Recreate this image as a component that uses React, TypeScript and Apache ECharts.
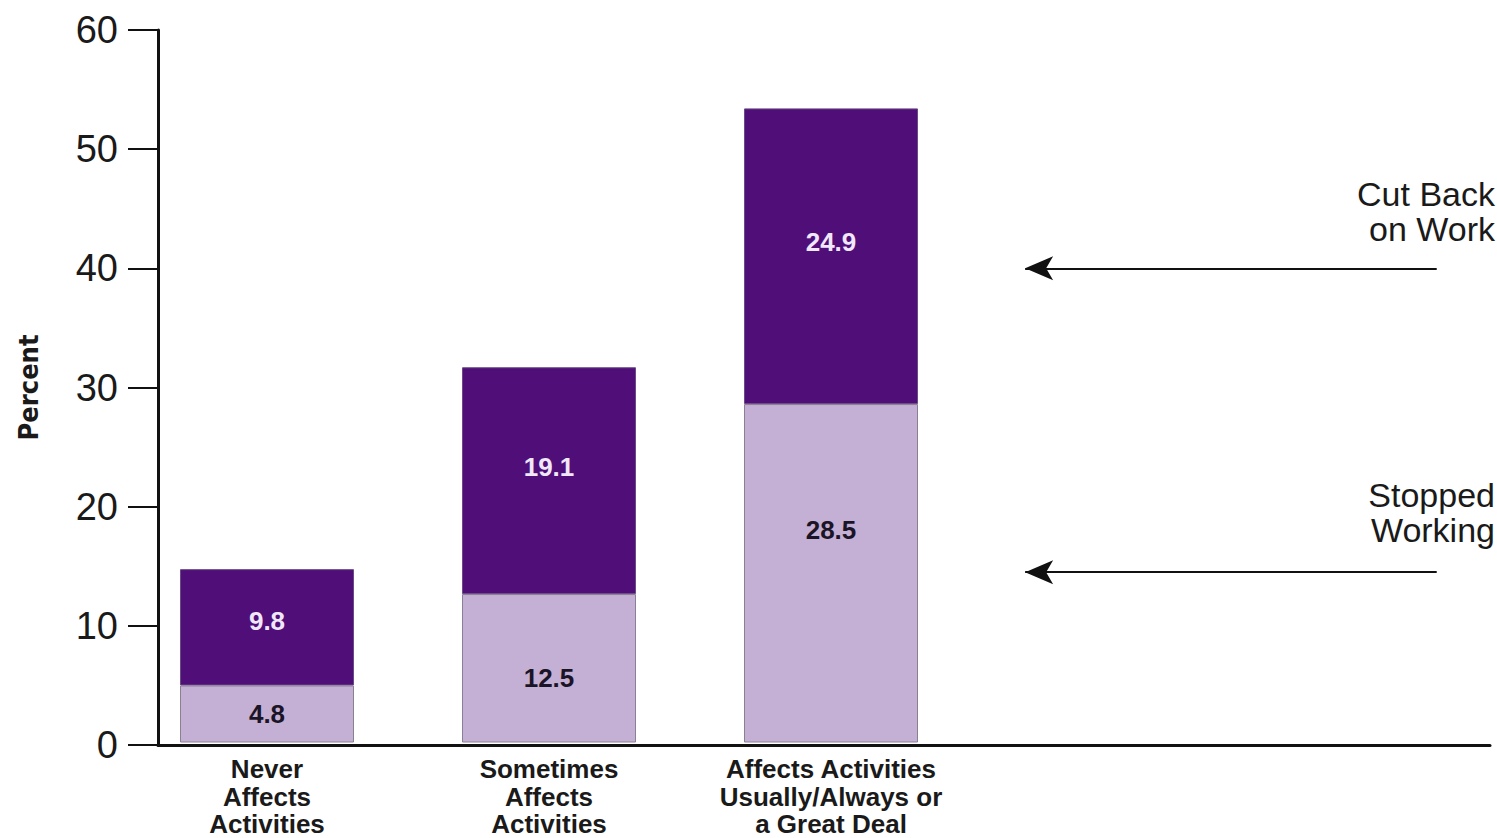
import React, { useEffect, useRef } from "react";
import * as echarts from "echarts";

// Share of workers who stopped or cut back on work, by how much the condition affects activities
const categories = [
  "Never\nAffects\nActivities",
  "Sometimes\nAffects\nActivities",
  "Affects Activities\nUsually/Always or\na Great Deal",
];
const stoppedWorking = [4.8, 12.5, 28.5];
const cutBackOnWork = [9.8, 19.1, 24.9];
const yTicks = { min: 0, max: 60, interval: 10 };

// Annotation arrows: value level and the label beside it
const annotationLevels = [40, 14.5];
const annotationLabels = ["Cut Back\non Work", "Stopped\nWorking"];

// Vertical nudges (px) for the in-bar value labels
const stoppedLabelNudge = [0, 10, -43];
const cutBackLabelNudge = [-6, -14, -14];

const DARK = "#500e79";
const LIGHT = "#c4b0d4";
const SANS = "'Liberation Sans', Arial, Helvetica, sans-serif";

export default function App() {
  const ref = useRef<HTMLDivElement>(null);

  useEffect(() => {
    document.body.style.margin = "0";
    const chart = echarts.init(ref.current!, undefined, { renderer: "svg" });

    const valueLabel = (color: string) => ({
      show: true,
      position: "inside" as const,
      color,
      fontFamily: SANS,
      fontWeight: "bold" as const,
      fontSize: 26,
    });

    const option: echarts.EChartsOption = {
      animation: false,
      backgroundColor: "#ffffff",
      grid: [
        // bars
        { left: 126, top: 30, width: 846, bottom: 93, containLabel: false },
        // frame with value axis and baseline
        { left: 158, top: 30, right: 7, bottom: 93, containLabel: false },
      ],
      xAxis: [
        {
          type: "category",
          gridIndex: 0,
          data: categories,
          axisLine: { show: false },
          axisTick: { show: false },
          axisLabel: {
            interval: 0,
            margin: 13,
            color: "#1a1a1a",
            fontFamily: SANS,
            fontWeight: "bold",
            fontSize: 26,
            lineHeight: 27.5,
          },
        },
        {
          type: "value",
          gridIndex: 1,
          min: 0,
          max: 100,
          axisLine: { show: true, lineStyle: { color: "#111", width: 3 } },
          axisTick: { show: false },
          axisLabel: { show: false },
          splitLine: { show: false },
        },
      ],
      yAxis: [
        {
          type: "value",
          gridIndex: 0,
          min: yTicks.min,
          max: yTicks.max,
          interval: yTicks.interval,
          show: false,
        },
        {
          type: "value",
          gridIndex: 1,
          min: yTicks.min,
          max: yTicks.max,
          interval: yTicks.interval,
          name: "Percent",
          nameLocation: "middle",
          nameGap: 116,
          nameRotate: 90,
          nameTextStyle: {
            fontFamily: "'Liberation Sans Narrow', 'DejaVu Sans Condensed', Arial, sans-serif",
            fontWeight: "bold",
            fontSize: 27,
            color: "#1a1a1a",
          },
          axisLine: { show: true, lineStyle: { color: "#111", width: 3 } },
          axisTick: { show: true, length: 30, lineStyle: { color: "#111", width: 2 } },
          axisLabel: {
            color: "#1a1a1a",
            fontFamily: SANS,
            fontSize: 38,
            margin: 40,
          },
          splitLine: { show: false },
        },
      ],
      graphic: annotationLabels.map((label, i) => ({
        type: "text",
        x: 1495,
        y: i === 0 ? 176 : 477,
        style: {
          text: label,
          fill: "#1a1a1a",
          font: `34px ${SANS}`,
          lineHeight: 35.5,
          align: "right",
          verticalAlign: "top",
        },
      })),
      series: [
        {
          name: "Stopped Working",
          type: "bar",
          stack: "total",
          xAxisIndex: 0,
          yAxisIndex: 0,
          barWidth: 174,
          data: stoppedWorking.map((v, i) => ({
            value: v,
            label: { offset: [0, stoppedLabelNudge[i]] },
          })),
          itemStyle: { color: LIGHT, borderColor: "#8a8094", borderWidth: 1 },
          label: valueLabel("#1b1427"),
        },
        {
          name: "Cut Back on Work",
          type: "bar",
          stack: "total",
          xAxisIndex: 0,
          yAxisIndex: 0,
          barWidth: 174,
          data: cutBackOnWork.map((v, i) => ({
            value: v,
            label: { offset: [0, cutBackLabelNudge[i]] },
          })),
          itemStyle: { color: DARK, borderColor: "#6a4a84", borderWidth: 1 },
          label: valueLabel("#f0e8f8"),
        },
        {
          name: "annotations",
          type: "line",
          xAxisIndex: 1,
          yAxisIndex: 1,
          data: [],
          silent: true,
          markLine: {
            silent: true,
            symbol: ["none", "arrow"],
            symbolSize: [18, 28],
            label: { show: false },
            lineStyle: { color: "#111", width: 2, type: "solid" },
            data: annotationLevels.map((v) => [
              { coord: [96, v] },
              { coord: [65.1, v] },
            ]),
          },
        },
      ],
    };

    chart.setOption(option);
    return () => chart.dispose();
  }, []);

  return <div ref={ref} style={{ width: 1497, height: 838 }} />;
}
